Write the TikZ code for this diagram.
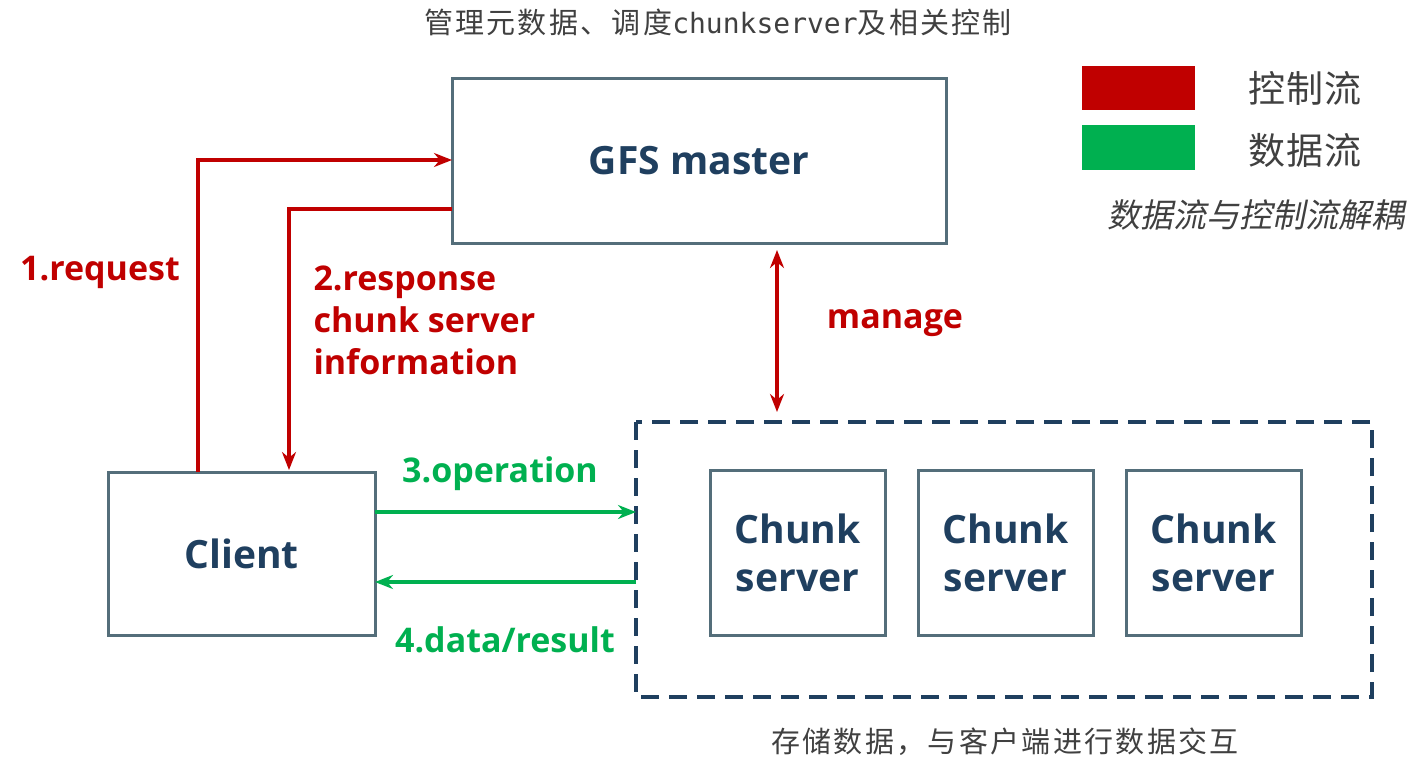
\documentclass[tikz,border=0pt]{standalone}
\usepackage{fontspec}
\setmainfont{Open Sans}
\newfontfamily\cjk{Noto Sans CJK SC}[LetterSpace=8]
\newfontfamily\cjkl{Noto Sans CJK SC}[LetterSpace=4]
\newfontfamily\cjkm{Noto Sans CJK SC}[FakeSlant=0.2]
\newfontfamily\mono{DejaVu Sans Mono}
\usetikzlibrary{arrows.meta}
\definecolor{bx}{HTML}{546E7A}
\definecolor{dk}{HTML}{1F3F5F}
\definecolor{rd}{HTML}{C00000}
\definecolor{gn}{HTML}{00B050}
\begin{document}
\begin{tikzpicture}[x=1pt,y=-1pt,
 box/.style={draw=bx,line width=3pt,fill=white},
 btxt/.style={font=\bfseries\fontsize{39}{46}\selectfont,text=dk,align=center},
 rl/.style={font=\bfseries\fontsize{34}{42}\selectfont,text=rd,align=left},
 gl/.style={font=\bfseries\fontsize{34}{38}\selectfont,text=gn},
 ra/.style={draw=rd,line width=3.5pt,-{Stealth[length=18pt,width=14pt]}},
 ga/.style={draw=gn,line width=3.5pt,-{Stealth[length=18pt,width=14pt]}},
 ct/.style={font=\cjk\fontsize{29}{32}\selectfont,text=black!75}]
\useasboundingbox (0,0) rectangle (1427,769);
\node[ct] (top) at (718,22) {管理元数据、调度{\mono\fontsize{28}{32}\selectfont chunkserver}及相关控制};
\node[box,minimum width=494pt,minimum height=165pt] (m) at (699,160.5) {};
\node[btxt] at (m) {GFS master};
\fill[rd] (1082,66) rectangle (1195,110);
\fill[gn] (1082,125) rectangle (1195,170);
\node[font=\cjkl\fontsize{37}{40}\selectfont,text=black!75] (l1) at (1305,88) {控制流};
\node[font=\cjkl\fontsize{37}{40}\selectfont,text=black!75] (l2) at (1305,150) {数据流};
\node[font=\cjkm\fontsize{33}{36}\selectfont,text=black!75] (l3) at (1256,215) {数据流与控制流解耦};
\node[box,minimum width=267pt,minimum height=163pt] (c) at (241.5,553.5) {};
\node[btxt] at (c) {Client};
\draw[dk,line width=3.5pt,dash pattern=on 18pt off 10pt] (636,422) rectangle (1372,697);
\coordinate (dtop) at (777,412);
\foreach \x/\n in {797.5/a,1005.5/b,1213.5/c}{
 \node[box,minimum width=175pt,minimum height=165pt] (s\n) at (\x,552.5) {};
 \node[btxt,font=\bfseries\fontsize{39}{48}\selectfont] at (s\n) {Chunk\\server};}
\draw[ra] (198,472) -- (198,160) -- (452,160);
\draw[ra] (452,209) -- (289,209) -- (289,470);
\node[rl] (r1) at (100,272) {1.request};
\node[rl,anchor=north west] (r2) at (310,262) {2.response\\chunk server\\information};
\draw[draw=rd,line width=3.5pt,{Stealth[length=18pt,width=14pt]}-{Stealth[length=18pt,width=14pt]}] (777,250) -- (dtop);
\node[rl] (mg) at (895,323) {manage};
\draw[ga] (375,512) -- (636,512);
\draw[ga] (636,582) -- (375,582);
\node[gl] (g1) at (500,474) {3.operation};
\node[gl] (g2) at (505,640) {4.data/result};
\node[ct] (bot) at (1005,742) {存储数据，与客户端进行数据交互};
\end{tikzpicture}
\end{document}
